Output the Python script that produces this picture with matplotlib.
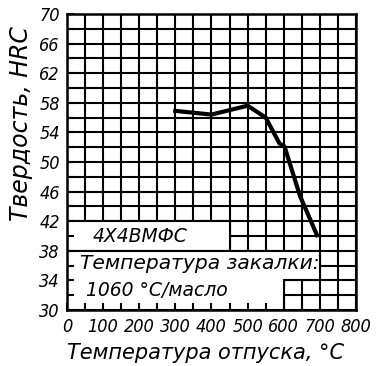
import numpy as np
import matplotlib
matplotlib.use("Agg")
import matplotlib.pyplot as plt
from matplotlib.patches import Polygon, Rectangle

# tempering curve
temp_otpusk = [300, 400, 500, 550, 588, 602, 645, 692]
hrc = [56.9, 56.4, 57.6, 56.0, 52.5, 52.1, 45.4, 40.1]

x_ticks = list(range(0, 801, 100))
y_ticks = list(range(30, 71, 4))

steel = "4X4BMФC"
note1 = "Температура закалки:"
note2 = "1060 °C/масло"

plt.rcParams["font.family"] = ["DejaVu Sans"]
plt.rcParams["font.style"] = "italic"
plt.rcParams["font.stretch"] = "condensed"  # tick labels are narrow

fig = plt.figure(figsize=(3.8, 3.66), dpi=100)
pos = [0.176, 0.153, 0.761, 0.809]

# grid axes
ax = fig.add_axes(pos)
ax.set_xlim(0, 800)
ax.set_ylim(30, 70)
ax.set_xticks(np.arange(0, 801, 50))
ax.set_yticks(np.arange(30, 71, 2))
ax.set_axisbelow(True)
ax.grid(True, color="black", lw=1.5)
ax.tick_params(length=0, labelbottom=False, labelleft=False)
for s in ax.spines.values():
    s.set_visible(False)

# white label boxes over the grid
ax.add_patch(Rectangle((0, 38), 450, 4, facecolor="white", edgecolor="black", lw=1.5, zorder=1))
ax.add_patch(Polygon([(0, 30), (600, 30), (600, 34), (700, 34), (700, 38), (0, 38)],
                     closed=True, facecolor="white", edgecolor="black", lw=1.5, zorder=1))

ax.plot(temp_otpusk, hrc, color="black", lw=3, solid_joinstyle="round", zorder=3)

ax.text(72, 39.9, steel, fontsize=13.5, fontstretch="normal", va="center", zorder=4)
ax.text(36, 36.3, note1, fontsize=14.6, fontstretch="normal", va="center", zorder=4)
ax.text(52, 32.6, note2, fontsize=13.5, fontstretch="normal", va="center", zorder=4)

# overlay axes for frame, ticks and labels
ax2 = fig.add_axes(pos, frameon=True)
ax2.patch.set_visible(False)
ax2.set_xlim(0, 800)
ax2.set_ylim(30, 70)
ax2.set_xticks(x_ticks)
ax2.set_yticks(y_ticks)
ax2.set_xticks(np.arange(0, 801, 50), minor=True)
ax2.set_yticks(np.arange(30, 71, 2), minor=True)
ax2.tick_params(which="both", direction="in", length=5, width=1.5, labelsize=13)
ax2.tick_params(axis="x", pad=6)
ax2.tick_params(axis="y", pad=5)
for s in ax2.spines.values():
    s.set_linewidth(1.8)

ax2.set_xlabel("Температура отпуска, °C", fontsize=15, fontstretch="normal")
ax2.xaxis.set_label_coords(0.48, -0.11)
ax2.set_ylabel("Твердость, HRC", fontsize=17, fontstretch="normal")
ax2.yaxis.set_label_coords(-0.118, 0.63)

fig.savefig("out.png", dpi=100)
